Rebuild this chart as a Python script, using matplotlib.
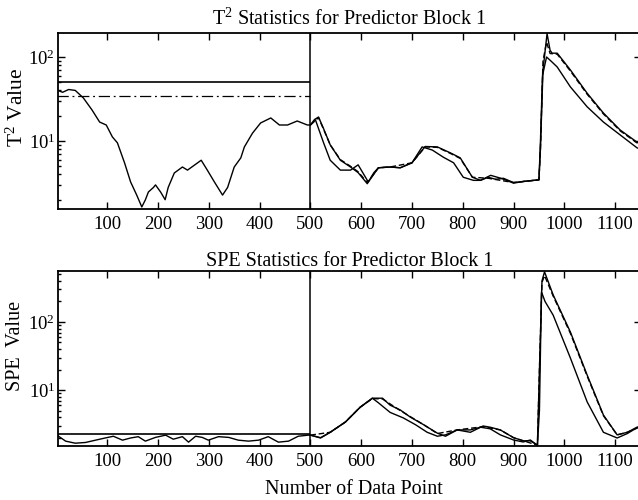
import matplotlib
matplotlib.use("Agg")
import matplotlib.pyplot as plt
from matplotlib.ticker import LogLocator, FixedLocator, NullFormatter

plt.rcParams['font.family'] = ['Liberation Serif', 'DejaVu Serif']
plt.rcParams['mathtext.fontset'] = 'custom'
plt.rcParams['mathtext.rm'] = 'Liberation Serif'
plt.rcParams['mathtext.it'] = 'Liberation Serif:italic'
plt.rcParams['mathtext.bf'] = 'Liberation Serif:bold'

# ---------------- data ----------------
x_ticks = [100, 200, 300, 400, 500, 600, 700, 800, 900, 1000, 1100]
fault_point = 500

t2_limit_solid = 51.0
t2_limit_dashdot = 34.0
spe_limit = 2.25

# T2: observed (single trace up to 500, then leading trace)
t2_a_x = [1, 12, 24, 37, 53, 70, 85, 98, 110, 120, 134, 146, 158, 168, 175, 181, 191, 195, 205,
          214, 220, 232, 248, 258, 278, 285, 297, 311, 327, 337, 350, 363, 370, 386, 402,
          422, 439, 455, 474, 494,
          500, 510, 518, 526, 539, 559, 579, 594, 614, 634, 657, 677, 700, 720, 740, 762,
          782, 801, 821, 835, 850, 865, 880, 900, 920, 940, 950, 953, 957, 965, 975, 986,
          1012, 1045, 1077, 1110, 1143, 1150]
t2_a = [40.4, 38, 41, 40, 32.5, 23.4, 16.8, 15.5, 11.2, 9.5, 5.5, 3.25, 2.27, 1.64, 1.99, 2.47,
        2.8, 3.0, 2.47, 2.0, 2.8, 4.16, 4.9, 4.5, 5.5, 5.9, 4.5, 3.25, 2.27, 2.8, 4.9, 6.3,
        8.5, 12.4, 16.4, 18.8, 15.5, 15.5, 17.3, 15.5,
        15.5, 17.8, 13.0, 9.5, 5.9, 4.5, 4.5, 5.2, 3.25, 4.8, 4.9, 4.8, 5.5, 8.5, 7.8, 6.4,
        5.5, 3.7, 3.4, 3.4, 3.7, 3.5, 3.6, 3.2, 3.3, 3.4, 3.45, 10, 60, 100, 88, 76,
        44, 25.5, 16.8, 11.8, 8.3, 8.0]

t2_b_x = [500, 508, 516, 526, 539, 559, 579, 594, 612, 625, 634, 657, 677, 700, 726, 750,
          776, 795, 819, 835, 855, 875, 900, 920, 940, 950, 953, 958, 966, 972, 976, 986,
          1012, 1045, 1077, 1110, 1143, 1150]
t2_b = [15.5, 18, 19.3, 14, 9.0, 5.9, 4.9, 4.2, 3.1, 4.2, 4.8, 4.9, 4.8, 5.5, 8.6, 8.5,
        7.2, 6.3, 3.7, 3.4, 3.9, 3.6, 3.15, 3.3, 3.4, 3.45, 8, 70, 190, 120, 111, 111,
        70, 37, 21.5, 13.5, 9.7, 9.3]

t2_c_x = [500, 516, 539, 559, 579, 594, 612, 634, 657, 700, 726, 750, 776, 795, 819, 850,
          900, 950, 953, 958, 965, 972, 986, 1012, 1045, 1077, 1110, 1143, 1150]
t2_c = [15.5, 19, 9, 6, 5, 4.3, 3.2, 4.8, 4.9, 5.5, 8.5, 8.4, 7.1, 6.2, 3.7, 3.6,
        3.2, 3.45, 8, 90, 150, 110, 108, 68, 36, 21, 13.2, 9.5, 9.2]

# SPE
spe_a_x = [1, 18, 37, 57, 77, 96, 112, 130, 146, 161, 175, 195, 215, 230, 248, 260, 274,
           287, 299, 319, 339, 358, 378, 398, 417, 437, 457, 476, 496,
           500, 520, 539, 569, 598, 622, 634, 657, 683, 707, 730, 750, 766, 789, 815, 835,
           854, 874, 900, 919, 933, 947, 951, 955, 962, 978, 1012, 1045, 1077, 1104, 1124,
           1143, 1150]
spe_a = [2.18, 1.78, 1.66, 1.7, 1.84, 1.98, 2.1, 1.84, 1.98, 2.07, 1.78, 2.02, 2.18, 1.9,
         2.07, 1.72, 2.1, 2.02, 1.84, 2.07, 2.02, 1.84, 1.78, 1.84, 2.07, 1.72, 1.78, 2.1, 2.18,
         2.18, 1.98, 2.4, 3.4, 5.6, 7.6, 6.5, 4.7, 3.9, 3.1, 2.4, 2.1, 2.2, 2.6, 2.6, 2.85,
         2.7, 2.2, 1.85, 1.73, 1.85, 1.55, 5, 276, 200, 126, 29.5, 6.7, 2.4, 1.98, 2.3,
         2.8, 2.9]

spe_b_x = [500, 520, 539, 569, 598, 622, 642, 657, 677, 697, 723, 750, 766, 789, 815, 840,
           854, 874, 900, 919, 933, 947, 951, 956, 961, 978, 1012, 1045, 1077, 1104, 1124,
           1143, 1150]
spe_b = [2.18, 2.0, 2.4, 3.4, 5.6, 7.6, 7.6, 6.0, 5.1, 4.0, 3.1, 2.33, 2.1, 2.6, 2.4, 2.97,
         2.85, 2.6, 2.0, 1.8, 1.8, 1.55, 20, 400, 545, 250, 71, 16.6, 4.3, 2.2, 2.4,
         2.85, 2.95]

spe_c_x = [500, 539, 569, 598, 622, 642, 677, 723, 750, 789, 840, 874, 900, 947, 951, 956,
           961, 978, 1012, 1045, 1077, 1104, 1124, 1150]
spe_c = [2.18, 2.4, 3.4, 5.6, 7.5, 7.4, 5.0, 3.1, 2.3, 2.6, 2.9, 2.6, 2.0, 1.55, 20, 380,
         480, 240, 68, 16, 4.2, 2.2, 2.4, 2.9]

# ---------------- figure ----------------
W, H = 638, 500
fig = plt.figure(figsize=(W / 100, H / 100), dpi=100)

left = 58 / W
right = 640.5 / W
ax1 = fig.add_axes([left, 1 - 209 / H, right - left, (209 - 33) / H])
ax2 = fig.add_axes([left, 1 - 446 / H, right - left, (446 - 271) / H])

lw = 1.0
fs = 13.5

# top panel
ax1.hlines(t2_limit_solid, 1, fault_point, colors='black', lw=1.2)
ax1.hlines(t2_limit_dashdot, 1, fault_point, colors='black', lw=0.9,
           linestyles=[(0, (9, 3, 1.5, 3))])
ax1.axvline(fault_point, color='black', lw=1.1)
ax1.plot(t2_c_x, t2_c, color='black', lw=lw, ls=(0, (4, 2)))
ax1.plot(t2_b_x, t2_b, color='black', lw=lw)
ax1.plot(t2_a_x, t2_a, color='black', lw=lw)
ax1.set_yscale('log')
ax1.set_ylim(1.55, 193)
ax1.set_title(r'T$^2$ Statistics for Predictor Block 1', fontsize=14.5, pad=6)

# bottom panel
ax2.hlines(spe_limit, 1, fault_point, colors='black', lw=1.2)
ax2.axvline(fault_point, color='black', lw=1.1)
ax2.plot(spe_c_x, spe_c, color='black', lw=lw, ls=(0, (4, 2)))
ax2.plot(spe_b_x, spe_b, color='black', lw=lw)
ax2.plot(spe_a_x, spe_a, color='black', lw=lw)
ax2.set_yscale('log')
ax2.set_ylim(1.51, 560)
ax2.set_title('SPE Statistics for Predictor Block 1', fontsize=14.5, pad=3)

fig.text(17 / W, 1 - 107 / H, r'T$^2$ Value', fontsize=15.5, rotation=90,
         ha='center', va='center')
fig.text(16 / W, 1 - 346 / H, 'SPE  Value', fontsize=14.5, rotation=90,
         ha='center', va='center')
fig.text(354 / W, 1 - 490 / H, 'Number of Data Point', fontsize=14.5,
         ha='center', va='center')

for ax in (ax1, ax2):
    ax.set_xlim(3, 1150)
    ax.xaxis.set_major_locator(FixedLocator(x_ticks))
    ax.yaxis.set_major_locator(LogLocator(base=10))
    ax.yaxis.set_minor_locator(LogLocator(base=10, subs=range(2, 10)))
    ax.yaxis.set_minor_formatter(NullFormatter())
    ax.tick_params(which='both', direction='in', top=True, right=True,
                   labelsize=fs, width=1.0)
    ax.tick_params(which='major', length=5)
    ax.tick_params(axis='x', which='major', pad=5)
    ax.tick_params(axis='y', which='major', pad=2)
    ax.tick_params(which='minor', length=2.5)
    for s in ax.spines.values():
        s.set_linewidth(1.3)

fig.savefig('out.png', dpi=100)
